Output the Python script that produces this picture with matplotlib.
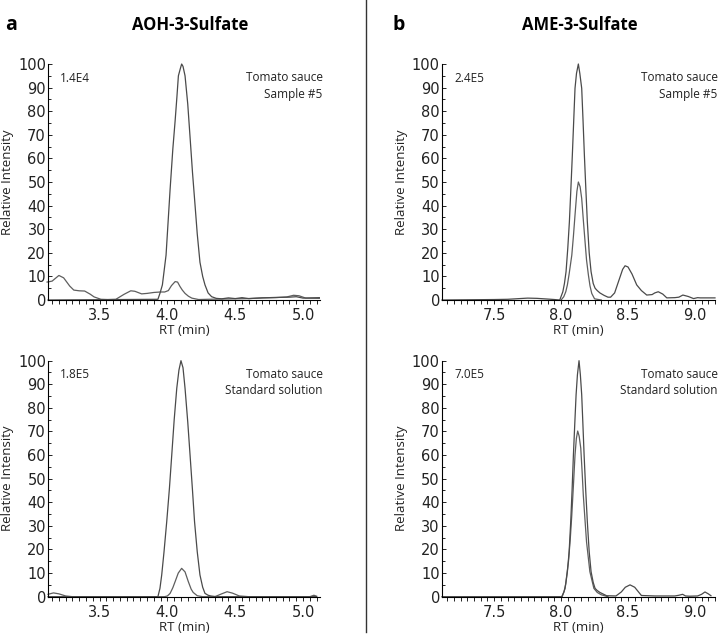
import matplotlib
matplotlib.use("Agg")
import matplotlib.pyplot as plt
from matplotlib.lines import Line2D
from matplotlib.ticker import MultipleLocator

# ---- data (RT in min, relative intensity in %) ----
# AOH-3-Sulfate, tomato sauce sample #5
aoh_sample_q_x = [3.12, 3.93, 3.946, 3.963, 3.99, 4.02, 4.04, 4.057, 4.07, 4.081, 4.095, 4.105,
                  4.115, 4.13, 4.15, 4.167, 4.185, 4.204, 4.22, 4.24, 4.26, 4.277, 4.30, 4.326,
                  4.36, 4.40, 4.45, 4.5, 4.55, 4.6, 4.7, 4.8, 4.9, 4.95, 5.0, 5.12]
aoh_sample_q_y = [0, 0.3, 3.0, 6.4, 19, 47, 64, 76, 86, 95, 98, 100,
                  99, 95, 83, 69, 54, 40, 28, 16, 10, 6.4, 3.0, 1.4,
                  0.7, 0.5, 0.9, 0.6, 1.0, 0.6, 0.9, 1.1, 1.2, 1.4, 0.8, 1.0]
aoh_sample_c_x = [3.113, 3.15, 3.20, 3.235, 3.28, 3.31, 3.35, 3.39, 3.43, 3.46, 3.51, 3.56,
                  3.62, 3.68, 3.73, 3.76, 3.81, 3.85, 3.90, 3.95, 3.98, 4.007, 4.03, 4.057,
                  4.075, 4.093, 4.11, 4.13, 4.155, 4.18, 4.23, 4.3, 4.4, 4.5, 4.6, 4.7,
                  4.8, 4.88, 4.93, 4.97, 5.02, 5.12]
aoh_sample_c_y = [7.6, 8.0, 10.4, 9.4, 5.9, 4.2, 3.9, 3.8, 2.5, 1.3, 0.3, 0.2,
                  0.3, 2.4, 3.9, 3.7, 2.6, 2.8, 3.2, 3.4, 3.4, 4.0, 6.1, 7.8,
                  7.6, 5.7, 4.2, 2.8, 1.6, 0.8, 0.2, 0.3, 0.4, 0.5, 0.6, 0.9,
                  1.0, 1.3, 2.0, 1.8, 0.8, 0.7]

# AOH-3-Sulfate, standard solution
aoh_std_q_x = [3.12, 3.93, 3.945, 3.958, 3.975, 3.995, 4.015, 4.032, 4.05, 4.069, 4.085, 4.10,
               4.115, 4.13, 4.15, 4.167, 4.185, 4.20, 4.22, 4.24, 4.26, 4.277, 4.30, 4.32,
               4.36, 5.1]
aoh_std_q_y = [0, 0, 3.5, 9.2, 19, 31.8, 46, 60, 75, 88.3, 96, 100,
               97, 88.3, 74, 60, 45, 31.8, 19, 9.2, 4.0, 1.4, 0.6, 0.3,
               0, 0]
aoh_std_c_x = [3.12, 3.16, 3.20, 3.25, 3.30, 3.98, 4.0, 4.02, 4.04, 4.057, 4.08, 4.105,
               4.13, 4.154, 4.175, 4.19, 4.22, 4.26, 4.35, 4.40, 4.44, 4.48, 4.53, 4.6,
               5.05, 5.08, 5.1]
aoh_std_c_y = [1.0, 1.6, 1.2, 0.3, 0, 0, 0.3, 1.4, 3.8, 6.4, 10, 12,
               10.5, 6.4, 3.2, 1.8, 0.4, 0, 0, 1.2, 2.1, 1.5, 0.3, 0,
               0, 0.6, 0.2]

# AME-3-Sulfate, tomato sauce sample #5
ame_sample_q_x = [7.11, 7.5, 7.6, 7.69, 7.75, 7.82, 7.90, 7.95, 7.99, 8.013, 8.025, 8.037,
                  8.05, 8.062, 8.073, 8.084, 8.095, 8.104, 8.115, 8.129, 8.14, 8.154, 8.164,
                  8.174, 8.185, 8.196, 8.21, 8.224, 8.24, 8.254, 8.27, 8.29, 8.32, 8.35,
                  8.37, 8.40, 8.43, 8.46, 8.478, 8.50, 8.53, 8.565, 8.60, 8.64, 8.68, 8.70,
                  8.726, 8.76, 8.79, 8.85, 8.88, 8.91, 8.95, 8.99, 9.02, 9.04, 9.07, 9.15]
ame_sample_q_y = [0, 0.2, 0.3, 0.6, 0.8, 0.7, 0.4, 0.2, 0, 3.5, 7, 12,
                  22, 33.2, 47, 61.4, 77, 89.7, 96, 100, 96, 89.7, 76,
                  61.4, 47, 33.2, 20, 12, 7, 5, 4, 3, 2, 1.2,
                  1.2, 3, 8, 13, 14.5, 14, 11, 6.4, 4, 2.1, 2.3, 3.0,
                  3.5, 2.5, 0.9, 1.0, 1.2, 2.1, 1.5, 0.6, 1.0, 0.9, 0.9, 0.9]
ame_sample_c_x = [8.0, 8.02, 8.035, 8.047, 8.06, 8.08, 8.092, 8.104, 8.118, 8.129, 8.142,
                  8.154, 8.166, 8.179, 8.19, 8.204, 8.216, 8.229, 8.25, 8.3]
ame_sample_c_y = [0, 1.4, 3.5, 6.4, 11, 19, 27, 36, 46, 50, 48,
                  43, 34, 24.7, 17, 10.6, 6, 2.8, 0.5, 0]

# AME-3-Sulfate, standard solution
ame_std_q_x = [7.11, 8.0, 8.005, 8.022, 8.035, 8.047, 8.06, 8.072, 8.082, 8.092, 8.102, 8.112,
               8.122, 8.134, 8.144, 8.154, 8.163, 8.172, 8.184, 8.196, 8.21, 8.224, 8.24,
               8.254, 8.27, 8.29, 8.34, 8.41, 8.45, 8.48, 8.515, 8.55, 8.60, 8.7, 8.85,
               8.88, 8.908, 8.93, 8.96, 9.02, 9.05, 9.075, 9.1, 9.12]
ame_std_q_y = [0, 0, 0, 2.1, 5.5, 10.6, 19, 31.8, 45, 60, 73, 85.5,
               94, 100, 94, 85.5, 73, 60, 45, 31.8, 19, 10.6, 6,
               3.5, 2.6, 1.8, 0.4, 0.3, 2.0, 4.0, 5, 4, 0.5, 0.3, 0.3,
               0.6, 1.0, 0.3, 0.2, 0.3, 1.0, 2.0, 1.2, 0.4]
ame_std_c_x = [8.008, 8.03, 8.055, 8.068, 8.08, 8.092, 8.104, 8.114, 8.124, 8.135, 8.147,
               8.157, 8.166, 8.178, 8.19, 8.215, 8.245, 8.27, 8.30, 8.35]
ame_std_c_y = [0, 3.5, 14.8, 24, 34.6, 47, 60, 67, 70.2, 68, 62.9,
               53, 43, 33, 23.3, 10.6, 3.5, 1.8, 0.8, 0]

panel_letters = ["a", "b"]
compound_titles = ["AOH-3-Sulfate", "AME-3-Sulfate"]
matrix_labels = ["Tomato sauce\nSample #5", "Tomato sauce\nStandard solution"]
scale_labels = [["1.4E4", "1.8E5"], ["2.4E5", "7.0E5"]]
x_ranges = [(3.12, 5.125), (7.11, 9.15)]
x_major = [[3.5, 4.0, 4.5, 5.0], [7.5, 8.0, 8.5, 9.0]]

TEXT_FONT = ["Open Sans", "DejaVu Sans"]
INK = "#222222"
LINE_COLOR = "#4a4a4a"
LINE_COLOR2 = "#5e5e5e"

fig = plt.figure(figsize=(7.18, 6.42), dpi=100)

lefts = [0.0669, 0.6156]
widths = [0.3788, 0.3802]
bottoms = [0.5327, 0.0706]
height = 0.3676

traces = [
    [((aoh_sample_q_x, aoh_sample_q_y), (aoh_sample_c_x, aoh_sample_c_y)),
     ((aoh_std_q_x, aoh_std_q_y), (aoh_std_c_x, aoh_std_c_y))],
    [((ame_sample_q_x, ame_sample_q_y), (ame_sample_c_x, ame_sample_c_y)),
     ((ame_std_q_x, ame_std_q_y), (ame_std_c_x, ame_std_c_y))],
]

for col in range(2):
    for row in range(2):
        ax = fig.add_axes([lefts[col], bottoms[row], widths[col], height])
        (qx, qy), (cx, cy) = traces[col][row]
        ax.plot(cx, cy, color=LINE_COLOR2, lw=0.9, clip_on=False)
        ax.plot(qx, qy, color=LINE_COLOR, lw=0.9, clip_on=False)

        ax.set_xlim(*x_ranges[col])
        ax.set_ylim(0, 100)
        ax.spines["top"].set_visible(False)
        ax.spines["right"].set_visible(False)
        ax.spines["left"].set_linewidth(0.8)
        ax.spines["bottom"].set_linewidth(0.8)

        ax.set_xticks(x_major[col])
        ax.set_xticklabels([f"{v:.1f}" for v in x_major[col]])
        ax.xaxis.set_minor_locator(MultipleLocator(0.05))
        ax.yaxis.set_major_locator(MultipleLocator(10))
        ax.yaxis.set_minor_locator(MultipleLocator(5))
        ax.tick_params(axis="x", which="both", direction="out", length=3, width=0.7, pad=3,
                       labelsize=10.5, colors=INK)
        ax.tick_params(axis="y", which="major", direction="in", length=3, width=0.7, pad=1.5,
                       labelsize=10.5, colors=INK)
        ax.tick_params(axis="y", which="minor", direction="in", length=2, width=0.6)

        ax.text(0.044, 0.94, scale_labels[col][row], transform=ax.transAxes,
                ha="left", va="center", fontsize=8.5, family=TEXT_FONT, color=INK)
        ax.text(1.01, 0.97, matrix_labels[row], transform=ax.transAxes, ha="right", va="top",
                fontsize=8.5, family=TEXT_FONT, color=INK, linespacing=1.35,
                multialignment="right")

        xc = lefts[col] + widths[col] / 2
        fig.text(xc, bottoms[row] - 0.048, "RT (min)", ha="center", va="center",
                 fontsize=9.5, family=TEXT_FONT, color=INK)
        yl_x = 8 / 718 if col == 0 else 402 / 718
        fig.text(yl_x, bottoms[row] + height / 2, "Relative Intensity", rotation=90,
                 ha="center", va="center", fontsize=9.5, family=TEXT_FONT, color=INK)

# panel letters and compound titles
title_y = 1 - 25 / 642
fig.text(5 / 718, title_y, panel_letters[0], ha="left", va="center",
         fontsize=14, fontweight="bold", family=TEXT_FONT)
fig.text(190 / 718, title_y, compound_titles[0], ha="center", va="center",
         fontsize=12, fontweight="bold", family=TEXT_FONT)
fig.text(393 / 718, title_y, panel_letters[1], ha="left", va="center",
         fontsize=14, fontweight="bold", family=TEXT_FONT)
fig.text(580 / 718, title_y, compound_titles[1], ha="center", va="center",
         fontsize=12, fontweight="bold", family=TEXT_FONT)

# vertical divider between panel a and panel b
fig.add_artist(Line2D([366 / 718, 366 / 718], [10 / 642, 1.0], transform=fig.transFigure,
                      color="#333333", lw=1.0))

fig.savefig("out.png", dpi=100)
